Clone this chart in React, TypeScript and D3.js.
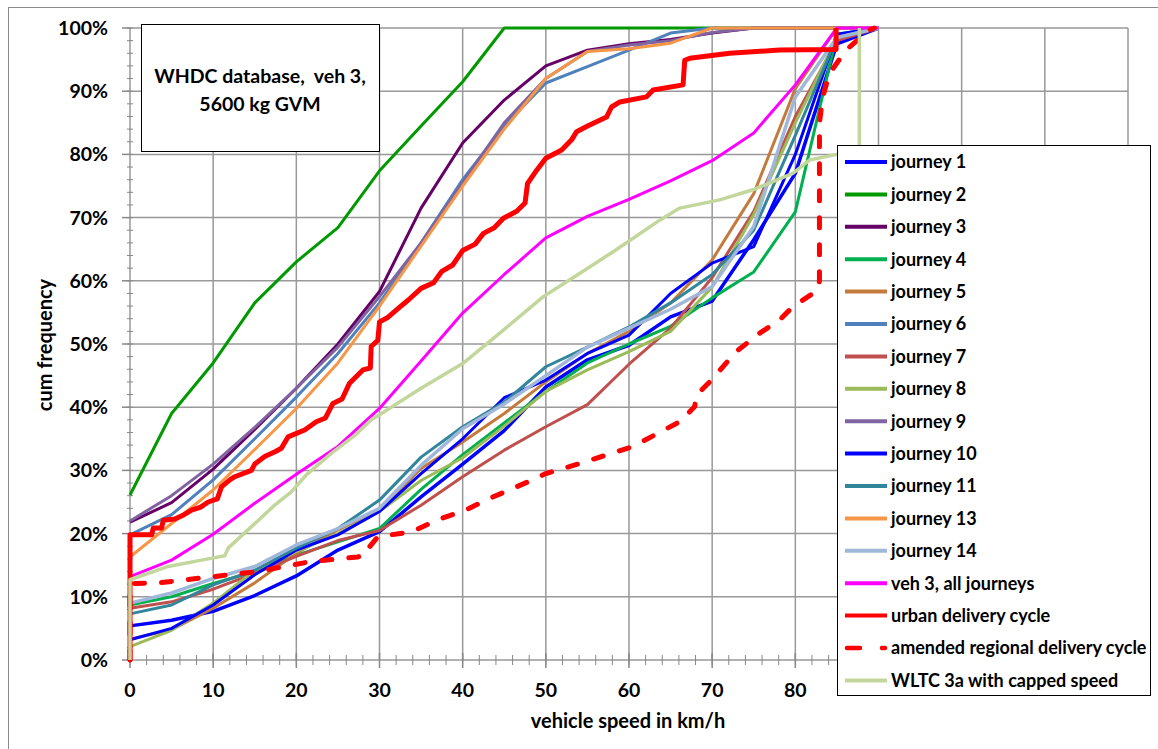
import React from "react";
import * as d3 from "d3";

const speeds = [0, 5, 10, 15, 20, 25, 30, 35, 40, 45, 50, 55, 60, 65, 70, 75, 80, 85, 90];

const journey1 = [5.4, 6.3, 7.7, 10.2, 13.3, 17.4, 20.3, 25.8, 31, 36.3, 43.2, 47.5, 49.8, 54.3, 56.8, 66.5, 77, 97.5, 100];
const journey2 = [26.1, 39, 47, 56.5, 63, 68.4, 77.4, 84.5, 91.5, 100, 100, 100, 100, 100, 100, 100, 100, 100, 100];
const journey3 = [21.8, 24.9, 30.2, 36.5, 43, 50, 58.3, 71.5, 81.8, 88.6, 94, 96.5, 97.5, 98.2, 99.2, 100, 100, 100, 100];
const journey4 = [8.7, 10, 12.1, 14, 16.6, 18.7, 20.8, 27, 32.5, 37.5, 42.5, 47, 50, 52.8, 57.3, 61.4, 70.9, 99, 100];
const journey5 = [3.3, 4.8, 8.2, 12.2, 16.9, 20.6, 23.7, 30.3, 34.5, 39, 44, 48.5, 52, 56.5, 63.3, 73.8, 90.4, 100, 100];
const journey6 = [19.8, 23, 28.5, 35, 41.6, 48.5, 56.5, 66, 76, 84.5, 91.3, 93.9, 96.5, 99.2, 100, 100, 100, 100, 100];
const journey7 = [8.2, 9.2, 11.2, 13.7, 16.4, 18.9, 20.5, 24.5, 29, 33.2, 36.9, 40.4, 46.8, 52.5, 60.5, 71, 86, 98, 100];
const journey8 = [2.1, 4.7, 9, 14.2, 17.2, 20, 23.5, 28.4, 32, 37, 42.5, 45.9, 48.8, 52, 59, 70.5, 85, 98.5, 100];
const journey9 = [22, 26, 31, 36.8, 43, 49.5, 57.5, 66, 75.5, 85, 92, 96.3, 97.3, 98, 99.3, 100, 100, 100, 100];
const journey10 = [3.2, 5, 8.7, 13.5, 17.4, 19.8, 23.5, 29.5, 35, 41.5, 44.3, 48.5, 51.4, 58, 62.8, 65.4, 80, 99, 100];
const journey11 = [7.3, 8.7, 11.9, 14.2, 17.7, 20.8, 25.3, 32.1, 36.9, 40.8, 46.4, 49.5, 52.7, 56.5, 61, 68, 83, 98.5, 100];
const journey13 = [16.3, 21.6, 26.9, 33.3, 39.8, 47, 56, 65.5, 75, 84, 92, 96.3, 96.7, 97.6, 100, 100, 100, 100, 100];
const journey14 = [9, 10.6, 12.9, 14.8, 18.2, 20.8, 24, 30.8, 36.6, 40.5, 45, 49.5, 52.5, 55.5, 59.1, 68.6, 89.1, 98.5, 100];
const veh3All = [13.2, 15.8, 19.9, 24.8, 29.4, 33.8, 39.8, 47.3, 54.9, 61, 66.8, 70.2, 72.9, 75.8, 79, 83.4, 91, 100, 100];

// [speed, cum %] pairs
const urbanCycle: [number, number][] = [
  [0, 0], [0, 19.8], [2.6, 19.8], [2.8, 20.9], [3.8, 20.9], [4, 22.1], [5.4, 22.3], [6.5, 23], [7.4, 23.7],
  [8.5, 24.2], [9.4, 25], [10.5, 25.5], [11, 27.4], [12, 28.5], [12.6, 29], [14.6, 30], [15, 31], [16.2, 32.2],
  [17.5, 33], [18.2, 33.5], [19, 35.3], [21, 36.4], [22.4, 37.7], [23.5, 38.3], [24.4, 40.6], [25.5, 41.3],
  [26.4, 43.8], [28, 45.9], [28.9, 46.2], [29, 49.6], [29.8, 50.6], [30, 53.5], [31, 54.2], [32.5, 55.9],
  [33.5, 57], [35, 58.8], [36.5, 59.7], [37.5, 61.5], [38.8, 62.5], [40, 64.8], [41.5, 65.8], [42.5, 67.5],
  [43.8, 68.4], [44.9, 69.9], [46.5, 71], [47.5, 72.3], [47.8, 75.4], [48.9, 77.5], [50, 79.4],
  [51.9, 80.7], [53.1, 82.3], [53.7, 83.6], [54.9, 84.4], [57.3, 85.9], [57.9, 87.5], [58.9, 88.3], [62.1, 89.1],
  [62.9, 90.2], [66.5, 91], [66.7, 94.9], [67.3, 95.2], [72.1, 96], [78.1, 96.5], [84.9, 96.6], [84.9, 100],
];
const amendedRegional: [number, number][] = [
  [0, 0], [0, 12.1], [3.4, 12.2], [11.4, 13.4], [15.4, 14], [21.8, 15.6], [27.4, 16.3], [28.6, 16.9], [28.8, 17.9],
  [29.8, 19.5], [33.9, 20.3], [37, 22.2], [40.3, 23.7], [43.3, 25.6], [48.4, 28.5], [50, 29.5], [54.1, 31.1],
  [60.5, 33.8], [66.1, 37.7], [67.9, 40.1], [68.1, 41.9], [69.7, 44], [72.9, 48.8], [75.7, 51.7], [78.1, 53.8],
  [79.7, 55.9], [82.7, 58.5], [82.9, 60], [82.9, 85], [83.3, 89.1], [84.1, 92.8], [86.1, 96.5], [88.9, 99.7], [89.5, 100],
];
const wltc3a: [number, number][] = [
  [0, 0], [0, 12.7], [4.6, 14.8], [8.6, 15.8], [11.4, 16.5], [11.8, 17.7], [14.6, 21.1], [17.4, 24.5], [19.4, 26.6],
  [21.2, 29.3], [24.2, 32.7], [27, 35.5], [29, 38], [30, 38.8], [35, 43], [40, 46.9], [44.9, 52.2], [49.7, 57.5],
  [54.1, 61.2], [58.1, 64.6], [63.7, 69.6], [66.1, 71.5], [70.9, 72.8], [74.9, 74.4], [79.7, 77], [81.7, 79.1],
  [85, 80], [87.7, 80.5], [87.7, 100],
];

const xGrid = [0, 10, 20, 30, 40, 50, 60, 70, 80, 90, 100, 110, 120];
const xTickLabels = [0, 10, 20, 30, 40, 50, 60, 70, 80];
const yTicks = [0, 10, 20, 30, 40, 50, 60, 70, 80, 90, 100];

const titleLines = ["WHDC database,  veh 3,", "5600 kg GVM"];

type Series = { name: string; color: string; width: number; dash?: string; pts: [number, number][] };

const fromBins = (vals: number[]): [number, number][] => vals.map((v, i) => [speeds[i], v]);

const series: Series[] = [
  { name: "journey 1", color: "#0000FF", width: 3.5, pts: fromBins(journey1) },
  { name: "journey 2", color: "#009900", width: 3, pts: fromBins(journey2) },
  { name: "journey 3", color: "#660066", width: 3, pts: fromBins(journey3) },
  { name: "journey 4", color: "#00B050", width: 3, pts: fromBins(journey4) },
  { name: "journey 5", color: "#C47A3C", width: 3, pts: fromBins(journey5) },
  { name: "journey 6", color: "#4F81BD", width: 3, pts: fromBins(journey6) },
  { name: "journey 7", color: "#C0504D", width: 3, pts: fromBins(journey7) },
  { name: "journey 8", color: "#9BBB59", width: 3, pts: fromBins(journey8) },
  { name: "journey 9", color: "#8064A2", width: 3, pts: fromBins(journey9) },
  { name: "journey 10", color: "#0000FF", width: 3, pts: fromBins(journey10) },
  { name: "journey 11", color: "#31869B", width: 3, pts: fromBins(journey11) },
  { name: "journey 13", color: "#F79646", width: 3, pts: fromBins(journey13) },
  { name: "journey 14", color: "#A0B7DA", width: 3.5, pts: fromBins(journey14) },
  { name: "veh 3, all journeys", color: "#FF00FF", width: 3, pts: fromBins(veh3All) },
  { name: "urban delivery cycle", color: "#FF0000", width: 5, pts: urbanCycle },
  { name: "amended regional delivery cycle", color: "#FF0000", width: 5, dash: "10,17", pts: amendedRegional },
  { name: "WLTC 3a with capped speed", color: "#C3D69B", width: 3.5, pts: wltc3a },
];

const FONT = "Lato, 'Open Sans', 'DejaVu Sans', sans-serif";

export default function App() {
  const W = 1158, H = 749;
  const x = d3.scaleLinear().domain([0, 120]).range([130, 1128]);
  const y = d3.scaleLinear().domain([0, 100]).range([660, 28]);
  const line = d3.line<[number, number]>().x((d) => x(d[0])).y((d) => y(d[1]));

  const minorX = d3.range(0, 121, 2);
  const minorY = d3.range(0, 101, 2);

  const legX = 837, legY = 145, legW = 313, legH = 550;
  const rowY0 = 162, rowH = 32.4;

  return (
    <svg width={W} height={H} style={{ position: "absolute", left: 0, top: 0, background: "#fff" }} fontFamily={FONT}>
      <rect x={0} y={0} width={W} height={H} fill="#fff" />
      <rect x={8.5} y={7.5} width={1160} height={760} fill="none" stroke="#8a8a8a" strokeWidth={1} />
      {/* gridlines */}
      {yTicks.map((t) => (
        <line key={"gy" + t} x1={x(0)} x2={x(120)} y1={y(t)} y2={y(t)} stroke="#999" strokeWidth={1.5} />
      ))}
      {xGrid.map((t) => (
        <line key={"gx" + t} x1={x(t)} x2={x(t)} y1={y(0)} y2={y(100)} stroke="#999" strokeWidth={1.5} />
      ))}
      {/* axis ticks */}
      {minorY.map((t) => (
        <line key={"my" + t} x1={127} x2={133} y1={y(t)} y2={y(t)} stroke="#888" strokeWidth={1} />
      ))}
      {yTicks.map((t) => (
        <line key={"My" + t} x1={122} x2={130} y1={y(t)} y2={y(t)} stroke="#888" strokeWidth={1.5} />
      ))}
      {minorX.map((t) => (
        <line key={"mx" + t} x1={x(t)} x2={x(t)} y1={655} y2={665} stroke="#888" strokeWidth={1} />
      ))}
      {xGrid.map((t) => (
        <line key={"Mx" + t} x1={x(t)} x2={x(t)} y1={653} y2={668} stroke="#888" strokeWidth={1.5} />
      ))}
      {/* tick labels */}
      {yTicks.map((t) => (
        <text key={"ly" + t} x={108} y={y(t)} dy="0.36em" textAnchor="end" fontWeight="bold" fontSize={19.5} fill="#000">
          {t + "%"}
        </text>
      ))}
      {xTickLabels.map((t) => (
        <text key={"lx" + t} x={x(t)} y={697} textAnchor="middle" fontWeight="bold" fontSize={19.5} fill="#000">
          {t}
        </text>
      ))}
      <text x={628} y={728} textAnchor="middle" fontWeight="bold" fontSize={20} fill="#000">
        vehicle speed in km/h
      </text>
      <text transform="translate(52,345) rotate(-90)" textAnchor="middle" fontWeight="bold" fontSize={20} fill="#000">
        cum frequency
      </text>
      {/* series */}
      {series.map((s) => (
        <path
          key={s.name}
          d={line(s.pts) || ""}
          fill="none"
          stroke={s.color}
          strokeWidth={s.width}
          strokeDasharray={s.dash}
          strokeLinecap={s.dash ? "round" : "butt"}
          strokeLinejoin="round"
        />
      ))}
      {/* title box */}
      <rect x={141.5} y={24.5} width={238} height={127} fill="#fff" stroke="#000" strokeWidth={1} />
      {titleLines.map((l, i) => (
        <text key={l} x={260} y={83 + i * 28} textAnchor="middle" fontWeight="bold" fontSize={19.5} fill="#000" style={{ whiteSpace: "pre" }}>
          {l}
        </text>
      ))}
      {/* legend */}
      <rect x={legX + 0.5} y={legY + 0.5} width={legW} height={legH} fill="#fff" stroke="#000" strokeWidth={1} />
      {series.map((s, i) => {
        const cy = rowY0 + i * rowH;
        return (
          <g key={"lg" + s.name}>
            <line
              x1={s.dash ? 847 : 845}
              x2={s.dash ? 885 : 887}
              y1={cy}
              y2={cy}
              stroke={s.color}
              strokeWidth={s.dash ? 4.5 : 4}
              strokeDasharray={s.dash ? "13,22" : undefined}
              strokeLinecap={s.dash ? "round" : "butt"}
            />
            <text x={891} y={cy} dy="0.36em" fontWeight="bold" fontSize={18} fill="#000">
              {s.name}
            </text>
          </g>
        );
      })}
    </svg>
  );
}
